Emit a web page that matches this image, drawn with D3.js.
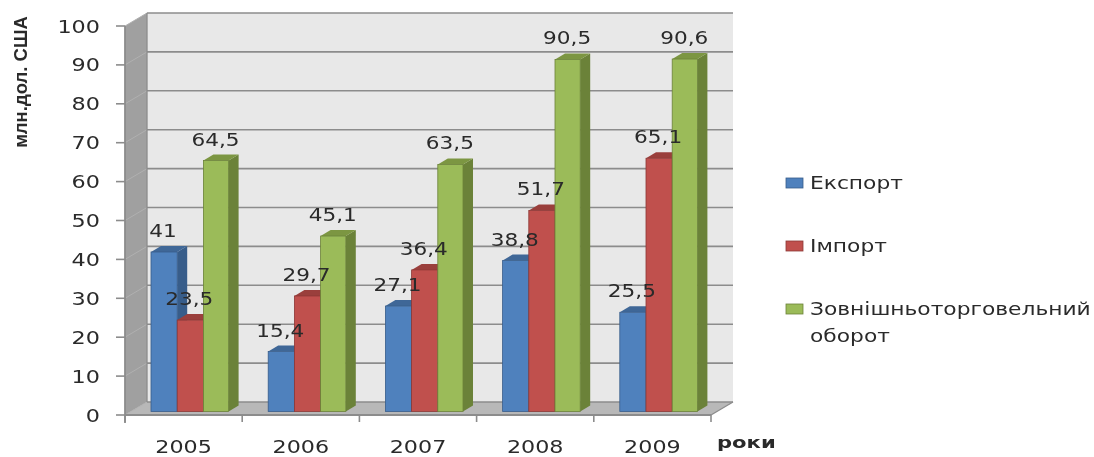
<!DOCTYPE html>
<html><head><meta charset="utf-8">
<script src="https://cdn.jsdelivr.net/npm/d3@7"></script>
<style>
html,body{margin:0;padding:0;background:#fff}
svg{display:block;filter:blur(0.5px)}
text{font-family:"DejaVu Sans",sans-serif;fill:#2a2a2a}
</style></head><body>
<svg id="c" width="1094" height="457"></svg>
<script>
const years=["2005","2006","2007","2008","2009"];
const exportVals=[41,15.4,27.1,38.8,25.5];
const importVals=[23.5,29.7,36.4,51.7,65.1];
const turnoverVals=[64.5,45.1,63.5,90.5,90.6];
const yTicks=[0,10,20,30,40,50,60,70,80,90,100];
const seriesNames=["Експорт","Імпорт","Зовнішньоторговельний"];
const lastLegendLine="оборот";
const faces=[
 {front:"#4f81bd",side:"#385d8a",top:"#3f6797"},
 {front:"#c0504d",side:"#8c3836",top:"#9a3f3c"},
 {front:"#9bbb59",side:"#6b8239",top:"#7c9642"}];
const series=[exportVals,importVals,turnoverVals];
const fmt=v=>String(v).replace(".",",");

const svg=d3.select("#c");
const FX0=125,FX1=711,FY0=415,FY100=26,DX=22,DY=-13;
const x=d3.scaleBand().domain(years).range([FX0,FX1]);
const y=d3.scaleLinear().domain([0,100]).range([FY0,FY100]);
const barW=26.2,barX=(i,s)=>x(years[i])+26+s*barW;
const barY=v=>y(v)-3.5;
const capX=10,capY=-6;
const pts=a=>a.map(p=>p.join(",")).join(" ");

svg.append("polygon").attr("points",pts([[FX0,y(0)],[FX0+DX,y(0)+DY],[FX0+DX,y(100)+DY],[FX0,y(100)]])).attr("fill","#a0a0a0");
svg.append("rect").attr("x",FX0+DX).attr("y",y(100)+DY).attr("width",FX1-FX0).attr("height",y(0)-y(100)).attr("fill","#e8e8e8");
svg.append("polygon").attr("points",pts([[FX0,y(0)],[FX0+DX,y(0)+DY],[FX1+DX,y(0)+DY],[FX1,y(0)]])).attr("fill","#b8b8b8");
yTicks.forEach(t=>{
 svg.append("line").attr("x1",FX0+DX).attr("x2",FX1+DX).attr("y1",y(t)+DY).attr("y2",y(t)+DY).attr("stroke","#8c8c8c").attr("stroke-width",1.6);
 svg.append("line").attr("x1",FX0).attr("x2",FX0+DX).attr("y1",y(t)).attr("y2",y(t)+DY).attr("stroke","#b0b0b0").attr("stroke-width",1);
});
svg.append("line").attr("x1",FX0+DX).attr("x2",FX0+DX).attr("y1",y(100)+DY).attr("y2",y(0)+DY).attr("stroke","#8c8c8c").attr("stroke-width",1.3);
svg.append("line").attr("x1",FX1).attr("x2",FX1+DX).attr("y1",y(0)).attr("y2",y(0)+DY).attr("stroke","#8c8c8c").attr("stroke-width",1.3);
svg.append("line").attr("x1",FX0).attr("x2",FX0).attr("y1",y(100)).attr("y2",y(0)+8).attr("stroke","#8c8c8c").attr("stroke-width",1.8);
svg.append("line").attr("x1",FX0).attr("x2",FX1).attr("y1",y(0)).attr("y2",y(0)).attr("stroke","#8c8c8c").attr("stroke-width",1.8);

yTicks.forEach(t=>{
 svg.append("line").attr("x1",FX0-9).attr("x2",FX0).attr("y1",y(t)).attr("y2",y(t)).attr("stroke","#8c8c8c").attr("stroke-width",1.6);
});
years.concat(["end"]).forEach((d,i)=>{
 const px=FX0+i*x.step();
 svg.append("line").attr("x1",px).attr("x2",px).attr("y1",y(0)).attr("y2",y(0)+7).attr("stroke","#8c8c8c").attr("stroke-width",1.6);
});

const st=(px,py,s)=>`translate(${px},${py}) scale(${s},1)`;
yTicks.forEach(t=>{
 svg.append("text").attr("transform",st(100,y(t)+6.5,1.24)).attr("text-anchor","end").style("font-size","18px").text(t);
});
years.forEach(d=>{
 svg.append("text").attr("transform",st(x(d)+x.bandwidth()/2,452.7,1.27)).attr("text-anchor","middle").style("font-size","17.5px").text(d);
});

years.forEach((d,i)=>{
 series.forEach((vals,s)=>{
  const v=vals[i],l=barX(i,s),r=l+barW-(s==2?1:0),t=barY(v),b=barY(0),f=faces[s];
  svg.append("polygon").attr("points",pts([[r,t],[r+capX,t+capY],[r+capX,b+capY],[r,b]])).attr("fill",f.side);
  svg.append("polygon").attr("points",pts([[l,t],[l+capX,t+capY],[r+capX,t+capY],[r,t]])).attr("fill",f.top);
 });
 series.forEach((vals,s)=>{
  const v=vals[i],l=barX(i,s),r=l+barW-(s==2?1:0),t=barY(v),b=barY(0),f=faces[s];
  svg.append("rect").attr("x",l).attr("y",t).attr("width",r-l).attr("height",b-t).attr("fill",f.front).attr("stroke",f.side).attr("stroke-width",.8);
 });
});
series.forEach((vals,s)=>vals.forEach((v,i)=>{
 svg.append("text").attr("transform",st(barX(i,s)+barW/2-1,barY(v)+capY-9,1.2)).attr("text-anchor","middle").style("font-size","18px").text(fmt(v));
}));

svg.append("text").attr("transform","translate(27,82) rotate(-90)").attr("text-anchor","middle").style("font-family","'Liberation Sans',sans-serif").style("font-weight","700").style("font-size","18.5px").text("млн.дол. США");
svg.append("text").attr("transform",st(717,448,1.32)).style("font-weight","700").style("font-size","16px").text("роки");

const legY=d3.scalePoint().domain(seriesNames).range([183,309]);
seriesNames.forEach((n,s)=>{
 const g=svg.append("g");
 g.append("rect").attr("x",786).attr("y",legY(n)-5).attr("width",17).attr("height",10).attr("fill",faces[s].front).attr("stroke",faces[s].side).attr("stroke-width",.8);
 g.append("text").attr("transform",st(810,legY(n)+6,1.21)).style("font-size","18px").text(n);
});
svg.append("text").attr("transform",st(810,342,1.21)).style("font-size","18px").text(lastLegendLine);
</script></body></html>
